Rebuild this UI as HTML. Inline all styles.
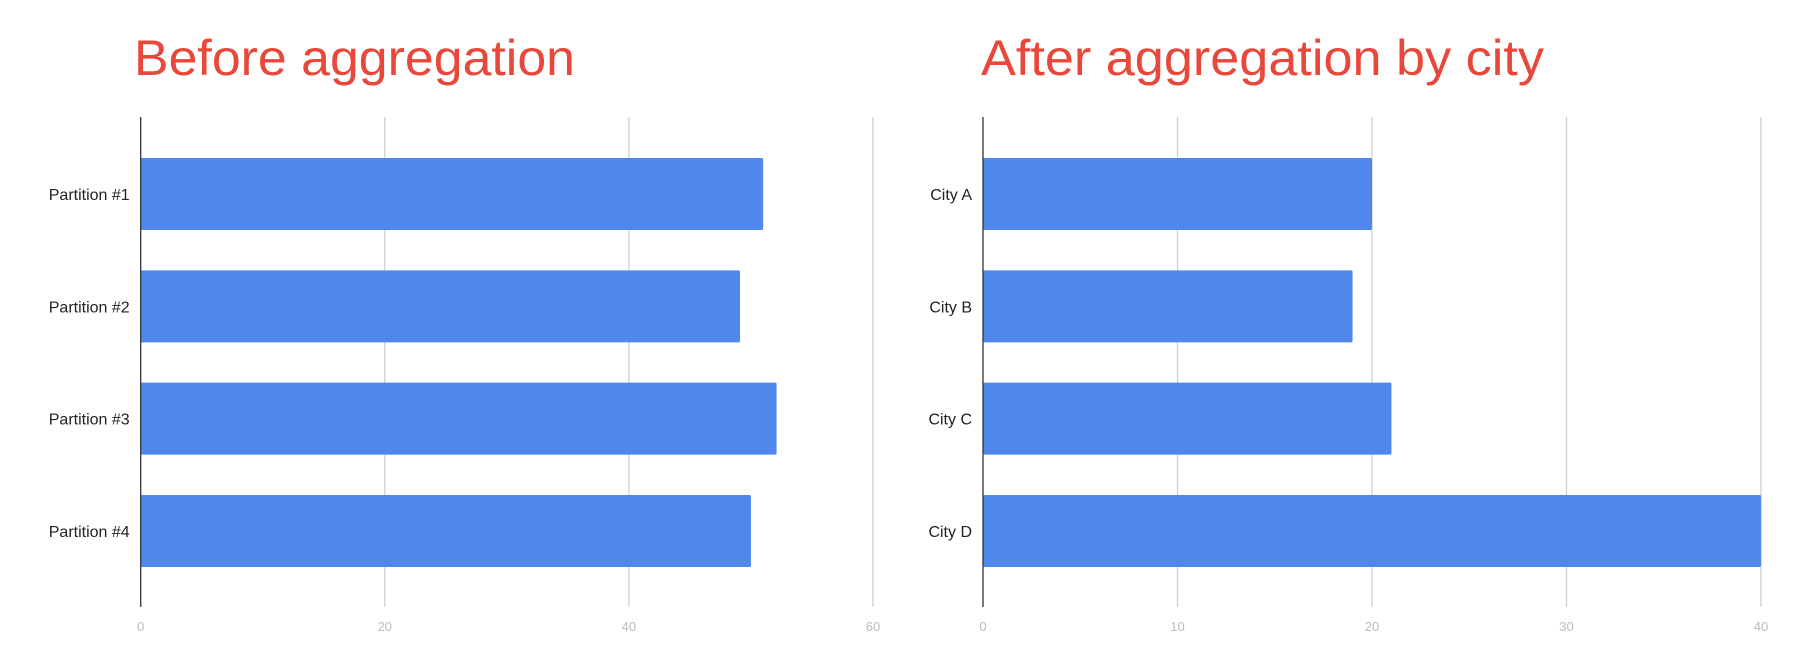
<!DOCTYPE html>
<html><head><meta charset="utf-8"><style>
html,body{margin:0;padding:0;background:#fff;}
svg{display:block;font-family:"Liberation Sans",sans-serif;}
</style></head><body>
<svg id="chart" width="1814" height="668" viewBox="0 0 1814 668" xmlns="http://www.w3.org/2000/svg">
<text x="134" y="75" font-size="50" fill="#e8473a" textLength="441" lengthAdjust="spacingAndGlyphs">Before aggregation</text>
<text x="981" y="75" font-size="50" fill="#e8473a" textLength="563" lengthAdjust="spacingAndGlyphs">After aggregation by city</text>
<g id="left"></g>
<g id="right"></g>
</svg>
<script>
const leftCategories = ["Partition #1","Partition #2","Partition #3","Partition #4"];
const leftValues = [51, 49.1, 52.1, 50];
const leftTicks = [0, 20, 40, 60];
const rightCategories = ["City A","City B","City C","City D"];
const rightValues = [20, 19, 21, 40];
const rightTicks = [0, 10, 20, 30, 40];

const NS = "http://www.w3.org/2000/svg";
function mk(parent, tag, attrs, text) {
  const e = document.createElementNS(NS, tag);
  for (const k in attrs) e.setAttribute(k, attrs[k]);
  if (text !== undefined) e.textContent = text;
  parent.appendChild(e);
  return e;
}
function draw(g, cats, vals, ticks, x0, x1, prefix) {
  const top = 117, bottom = 607;
  const maxT = ticks[ticks.length - 1];
  const xs = v => x0 + (v / maxT) * (x1 - x0);
  const barTop = 158, barBottom = 567;
  const barH = 72;
  const pitch = (barBottom - barTop - barH) / (cats.length - 1);
  ticks.forEach(t => {
    if (t !== 0) {
      const gl = mk(g, "line", {x1: xs(t), x2: xs(t), y1: top, y2: bottom, stroke: "#cccccc", "stroke-width": 1.2});
      
      
    }
    const tl = mk(g, "text", {x: xs(t), y: 631, "font-size": 13, fill: "#bbbbbb", "text-anchor": "middle"}, t);
    
    
  });
  cats.forEach((c, i) => {
    const y = barTop + pitch * i;
    const r = mk(g, "rect", {x: x0, y: y, width: xs(vals[i]) - x0, height: barH, fill: "#5087ea", rx: 1.5});
    
    
    const l = mk(g, "text", {x: x0 - 11, y: y + barH / 2 + 6, "font-size": 16, fill: "#222", "text-anchor": "end"}, c);
    
    
  });
  const ax = mk(g, "line", {x1: x0, x2: x0, y1: top, y2: bottom, stroke: "#333", "stroke-width": 1.3});
  
  
}
draw(document.getElementById("left"), leftCategories, leftValues, leftTicks, 140.7, 873, "partition");
draw(document.getElementById("right"), rightCategories, rightValues, rightTicks, 983, 1761, "city");
</script>
</body></html>
